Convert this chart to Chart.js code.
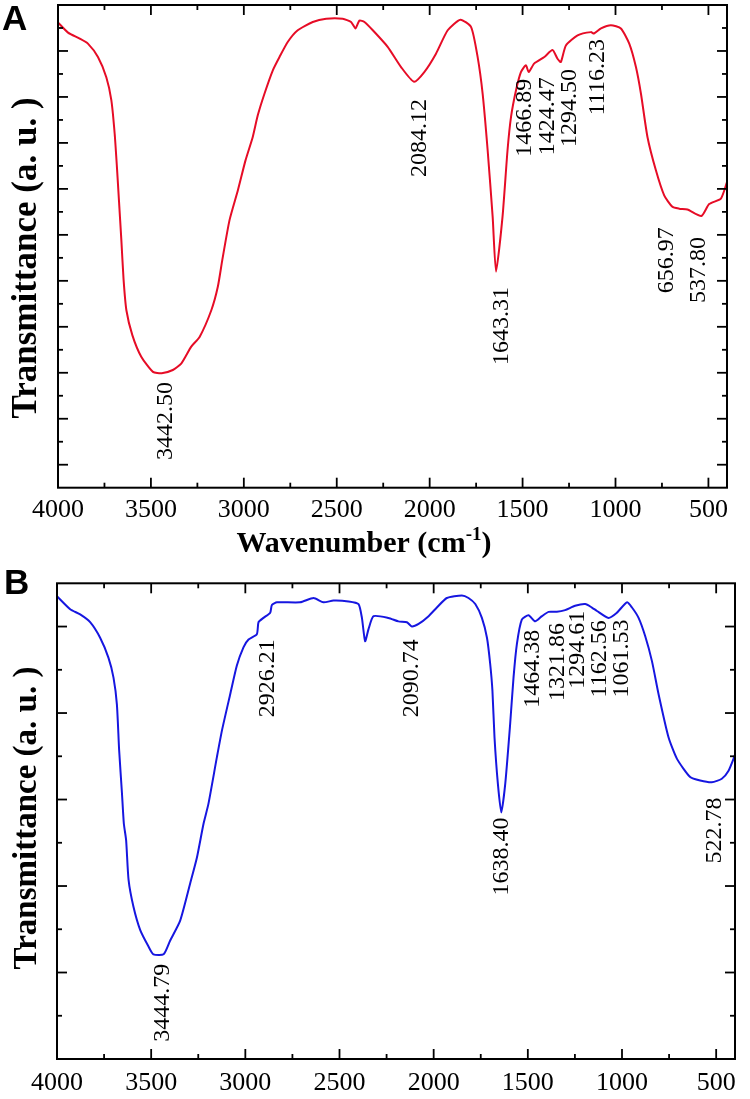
<!DOCTYPE html>
<html lang="en">
<head>
  <meta charset="UTF-8">
  <title>FTIR spectra</title>
  <script src="https://cdn.jsdelivr.net/npm/chart.js"></script>
  <style>
    body, html {
      margin: 0;
      padding: 0;
      background: #fff;
    }

    canvas {
      position: absolute;
      left: 0;
    }

    #chartA { top: 0; }
    #chartB { top: 566px; }
  </style>
</head>
<body>
  <canvas id="chartA" width="750" height="566"></canvas>
  <canvas id="chartB" width="750" height="533"></canvas>

  <script>
    // x axis: wavenumber (cm-1), y axis: transmittance in arbitrary units
    const xTickValues = [4000, 3500, 3000, 2500, 2000, 1500, 1000, 500];

    // spectrum A (red)
    const wavenumbersA = [4000, 3946, 3883, 3839, 3785, 3740, 3713, 3695, 3683, 3672, 3659, 3647, 3632, 3600,
      3552, 3489, 3442, 3382, 3337, 3283, 3238, 3175, 3140, 3116, 3077, 3032, 2991, 2952, 2925, 2889, 2844,
      2808, 2763, 2710, 2629, 2557, 2468, 2423, 2399, 2378, 2351, 2306, 2226, 2154, 2084, 2029, 1966, 1903,
      1835, 1777, 1742, 1715, 1688, 1661, 1643, 1608, 1581, 1562, 1535, 1509, 1482, 1467, 1437, 1383, 1339,
      1312, 1294, 1267, 1204, 1132, 1116, 1078, 1025, 971, 926, 890, 863, 828, 783, 738, 694, 657, 613, 538,
      496, 433, 400];
    const transmittanceA = [9.62, 9.40, 9.27, 9.16, 8.87, 8.43, 7.93, 7.20, 6.48, 5.75, 4.88, 4.02, 3.36, 2.82,
      2.35, 2.02, 1.99, 2.06, 2.20, 2.57, 2.78, 3.36, 3.87, 4.45, 5.32, 5.97, 6.62, 7.13, 7.60, 8.07, 8.58,
      8.87, 9.20, 9.45, 9.63, 9.70, 9.70, 9.63, 9.49, 9.66, 9.63, 9.45, 9.09, 8.65, 8.33, 8.54, 8.94, 9.45,
      9.68, 9.52, 8.87, 8.07, 6.84, 5.39, 4.20, 5.39, 6.84, 7.57, 8.15, 8.54, 8.69, 8.54, 8.73, 8.87, 9.02,
      8.83, 8.76, 9.12, 9.34, 9.41, 9.38, 9.49, 9.56, 9.49, 9.16, 8.65, 8.07, 7.13, 6.41, 5.86, 5.61, 5.57, 5.55, 5.41,
      5.67, 5.79, 6.15];
    const peakLabelsA = ['3442.50', '2084.12', '1643.31', '1466.89', '1424.47', '1294.50', '1116.23', '656.97', '537.80'];

    // spectrum B (blue)
    const wavenumbersB = [4000, 3930, 3877, 3824, 3771, 3727, 3700, 3682, 3670, 3655, 3645, 3633, 3620, 3594,
      3558, 3514, 3488, 3434, 3399, 3346, 3293, 3257, 3222, 3196, 3151, 3124, 3080, 3045, 3010, 2983, 2939,
      2930, 2904, 2868, 2859, 2832, 2709, 2638, 2585, 2532, 2452, 2399, 2381, 2364, 2346, 2319, 2240, 2187,
      2142, 2116, 2080, 2027, 1983, 1930, 1850, 1815, 1779, 1744, 1717, 1700, 1688, 1677, 1659, 1641, 1620,
      1594, 1576, 1558, 1532, 1496, 1461, 1425, 1390, 1346, 1302, 1249, 1195, 1160, 1133, 1072, 1027, 974,
      947, 912, 877, 841, 806, 753, 708, 638, 585, 523, 470, 435, 408, 400];
    const transmittanceB = [5.35, 5.20, 5.14, 5.05, 4.87, 4.64, 4.41, 4.10, 3.57, 3.07, 2.72, 2.53, 2.07, 1.76,
      1.49, 1.30, 1.21, 1.21, 1.37, 1.60, 2.03, 2.33, 2.72, 2.95, 3.49, 3.80, 4.22, 4.55, 4.76, 4.85, 4.91,
      5.05, 5.10, 5.16, 5.25, 5.28, 5.28, 5.33, 5.28, 5.30, 5.29, 5.26, 5.10, 4.83, 4.97, 5.12, 5.10, 5.06,
      5.05, 5.00, 5.03, 5.12, 5.22, 5.33, 5.36, 5.33, 5.26, 5.10, 4.87, 4.57, 4.26, 3.72, 3.18, 2.85, 3.18,
      3.87, 4.41, 4.80, 5.08, 5.13, 5.06, 5.12, 5.17, 5.17, 5.19, 5.24, 5.26, 5.22, 5.18, 5.10, 5.16, 5.28,
      5.22, 5.10, 4.89, 4.60, 4.22, 3.72, 3.47, 3.26, 3.22, 3.20, 3.24, 3.33, 3.47, 3.52];
    const peakLabelsB = ['3444.79', '2926.21', '2090.74', '1638.40', '1464.38', '1321.86', '1294.61', '1162.56', '1061.53', '522.78'];

    // where each rotated label starts, in axis units [wavenumber, transmittance]
    const labelAnchorsA = [[3421, 0.10], [2055, 6.26], [1614, 2.17], [1491, 6.70], [1367, 6.73],
      [1249, 6.91], [1098, 7.60], [727, 3.73], [550, 3.52]];
    const labelAnchorsB = [[3439, 0.20], [2881, 3.95], [2114, 3.95], [1641, 1.89], [1472, 4.06],
      [1341, 4.14], [1233, 4.28], [1121, 4.18], [1004, 4.18], [510, 2.26]];

    function line(ctx, x1, y1, x2, y2) {
      ctx.beginPath();
      ctx.moveTo(x1, y1);
      ctx.lineTo(x2, y2);
      ctx.stroke();
    }

    // box frame, inward ticks, peak labels and titles
    const spectrumDecor = {
      id: 'spectrumDecor',
      afterDraw(chart, args, opts) {
        const { ctx, chartArea: a, scales: { x, y } } = chart;
        ctx.save();
        ctx.strokeStyle = '#000';
        ctx.fillStyle = '#000';
        ctx.lineWidth = 2;
        ctx.strokeRect(a.left, a.top, a.right - a.left, a.bottom - a.top);

        ctx.lineWidth = 1.8;
        xTickValues.forEach(v => {
          const px = x.getPixelForValue(v);
          line(ctx, px, a.bottom, px, a.bottom - 10);
          line(ctx, px, a.top, px, a.top + 10);
          const mx = x.getPixelForValue(v - 250);
          if (mx < a.right) {
            line(ctx, mx, a.bottom, mx, a.bottom - 5);
            line(ctx, mx, a.top, mx, a.top + 5);
          }
        });
        for (let v = Math.ceil(y.min); v <= y.max; v += 1) {
          const py = y.getPixelForValue(v);
          line(ctx, a.left, py, a.left + 10, py);
          line(ctx, a.right, py, a.right - 10, py);
          const my = y.getPixelForValue(v + 0.5);
          if (v + 0.5 < y.max) {
            line(ctx, a.left, my, a.left + 5, my);
            line(ctx, a.right, my, a.right - 5, my);
          }
        }

        // peak labels, reading bottom to top
        ctx.font = '24px "Liberation Serif"';
        ctx.textAlign = 'left';
        ctx.textBaseline = 'middle';
        opts.labels.forEach((text, i) => {
          const [wn, t] = opts.anchors[i];
          ctx.save();
          ctx.translate(x.getPixelForValue(wn), y.getPixelForValue(t));
          ctx.rotate(-Math.PI / 2);
          ctx.fillText(text, 0, 0);
          ctx.restore();
        });

        // y title
        ctx.save();
        ctx.font = 'bold ' + opts.yTitleSize + 'px "Liberation Serif"';
        ctx.textAlign = 'center';
        ctx.translate(27, opts.yTitleY);
        ctx.rotate(-Math.PI / 2);
        ctx.fillText('Transmittance (a. u. )', 0, 0);
        ctx.restore();

        // x title with superscript
        if (opts.xTitle) {
          ctx.textBaseline = 'alphabetic';
          const big = 'bold 30px "Liberation Serif"';
          const small = 'bold 19px "Liberation Serif"';
          ctx.font = big;
          const w1 = ctx.measureText('Wavenumber (cm').width;
          const w3 = ctx.measureText(')').width;
          ctx.font = small;
          const w2 = ctx.measureText('-1').width;
          let cx = 364 - (w1 + w2 + w3) / 2;
          ctx.font = big;
          ctx.fillText('Wavenumber (cm', cx, 552);
          cx += w1;
          ctx.font = small;
          ctx.fillText('-1', cx, 540);
          cx += w2;
          ctx.font = big;
          ctx.fillText(')', cx, 552);
        }

        // panel letter
        ctx.textBaseline = 'alphabetic';
        ctx.font = 'bold 35px "Liberation Sans"';
        ctx.fillText(opts.letter, opts.letterX, opts.letterY);
        ctx.restore();
      }
    };

    function makeSpectrum(canvasId, wn, trans, color, cfg) {
      return new Chart(document.getElementById(canvasId), {
        type: 'line',
        data: {
          datasets: [{
            data: wn.map((w, i) => ({ x: w, y: trans[i] })),
            borderColor: color,
            borderWidth: 2,
            pointRadius: 0,
            tension: 0.2,
            fill: false
          }]
        },
        options: {
          responsive: false,
          animation: false,
          devicePixelRatio: 1,
          layout: { padding: cfg.padding },
          plugins: {
            legend: { display: false },
            tooltip: { enabled: false },
            spectrumDecor: cfg.decor
          },
          scales: {
            x: {
              type: 'linear',
              reverse: true,
              min: 400,
              max: 4000,
              afterBuildTicks: s => { s.ticks = xTickValues.map(v => ({ value: v })); },
              afterFit: s => { s.height = cfg.xHeight; },
              grid: { display: false, drawTicks: false },
              border: { display: false },
              ticks: {
                font: { family: 'Liberation Serif', size: 26 },
                color: '#000',
                padding: cfg.tickPad,
                maxRotation: 0,
                autoSkip: false,
                callback: v => String(v)
              }
            },
            y: {
              type: 'linear',
              min: cfg.yMin,
              max: cfg.yMax,
              afterFit: s => { s.width = cfg.yWidth; },
              grid: { display: false, drawTicks: false },
              border: { display: false },
              ticks: { display: false }
            }
          }
        },
        plugins: [spectrumDecor]
      });
    }

    makeSpectrum('chartA', wavenumbersA, transmittanceA, 'rgb(230, 12, 38)', {
      padding: { top: 5, right: 23, left: 0, bottom: 0 },
      xHeight: 78.3, yWidth: 58, yMin: -0.5, yMax: 10, tickPad: 7,
      decor: { labels: peakLabelsA, anchors: labelAnchorsA, yTitleSize: 35, yTitleY: 258,
        xTitle: true, letter: 'A', letterX: 2, letterY: 30 }
    });

    makeSpectrum('chartB', wavenumbersB, transmittanceB, 'rgb(22, 22, 224)', {
      padding: { top: 17.3, right: 15, left: 0, bottom: 0 },
      xHeight: 40, yWidth: 57, yMin: 0, yMax: 5.5, tickPad: 9,
      decor: { labels: peakLabelsB, anchors: labelAnchorsB, yTitleSize: 33, yTitleY: 252,
        xTitle: false, letter: 'B', letterX: 4, letterY: 28 }
    });
  </script>
</body>
</html>
